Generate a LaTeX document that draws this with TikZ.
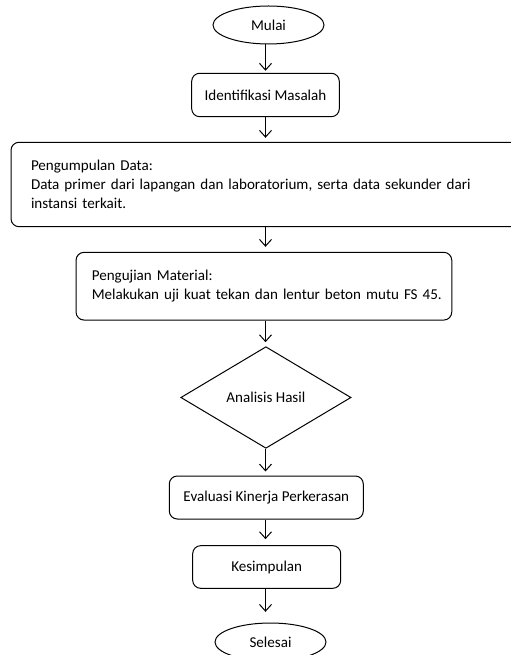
\documentclass[tikz,border=0pt]{standalone}
\usepackage{fontspec}
\setmainfont{Carlito}
\usetikzlibrary{shapes.geometric,arrows.meta}

\tikzset{every picture/.style={line width=0.75pt}}
\tikzset{
  term/.style={draw, ellipse, inner sep=0pt, minimum width=83.25pt, minimum height=28.5pt},
  proc/.style={draw, rounded corners=6pt, inner sep=0pt},
  deci/.style={draw, diamond, inner sep=0pt, minimum width=127.7pt, minimum height=76.2pt},
  arr/.style={-{Straight Barb[length=5pt,width=9pt]}},
}

\begin{document}
\begin{tikzpicture}[x=0.75pt,y=0.75pt,yscale=-1,xscale=1,font=\fontsize{11.3pt}{14.4pt}\selectfont]
\useasboundingbox (0,0) rectangle (510,655);

%Shape: Ellipse [id:mulai]
\node [term] (mulai) at (268.5,25) {Mulai};
%Shape: Rectangle [id:ident]
\node [proc, minimum width=110.7pt, minimum height=32.6pt] (ident) at (265.5,95) {Identifikasi Masalah};
%Shape: Rectangle [id:kumpul]
\node [proc, inner xsep=15pt, text width=351.75pt, align=left, minimum height=63.3pt] (kumpul) at (265.5,184.5)
  {Pengumpulan Data:\\\mbox{Data primer dari lapangan dan laboratorium, serta data sekunder dari}\\instansi terkait.};
%Shape: Rectangle [id:uji]
\node [proc, inner xsep=11.8pt, text width=258.2pt, align=left, minimum height=50.8pt] (uji) at (263.9,286.2)
  {Pengujian Material:\\\mbox{Melakukan uji kuat tekan dan lentur beton mutu FS 45.}};
%Shape: Diamond [id:analisis]
\node [deci] (analisis) at (265.9,397.5) {Analisis Hasil};
%Shape: Rectangle [id:evaluasi]
\node [proc, minimum width=145.5pt, minimum height=32.25pt] (evaluasi) at (266.3,497.5) {Evaluasi Kinerja Perkerasan};
%Shape: Rectangle [id:simpul]
\node [proc, minimum width=111pt, minimum height=32pt] (simpul) at (266.7,567) {Kesimpulan};
%Shape: Ellipse [id:selesai]
\node [term] (selesai) at (270.5,642) {Selesai};

%Straight Lines
\draw [arr, shorten >=1.5pt] (mulai.south -| ident) -- (ident.north);
\draw [arr, shorten >=3pt] (ident.south) -- (kumpul.north -| ident);
\draw [arr, shorten >=3.75pt] (kumpul.south -| ident) -- (uji.north -| ident);
\draw [arr, shorten >=3pt] (uji.south -| ident) -- (analisis.north -| ident);
\draw [arr, shorten >=3pt] (analisis.south -| ident) -- (evaluasi.north -| ident);
\draw [arr, shorten >=4.5pt] (evaluasi.south -| ident) -- (simpul.north -| ident);
\draw [arr, shorten >=8pt] (simpul.south -| ident) -- (selesai.north -| ident);
\end{tikzpicture}
\end{document}
